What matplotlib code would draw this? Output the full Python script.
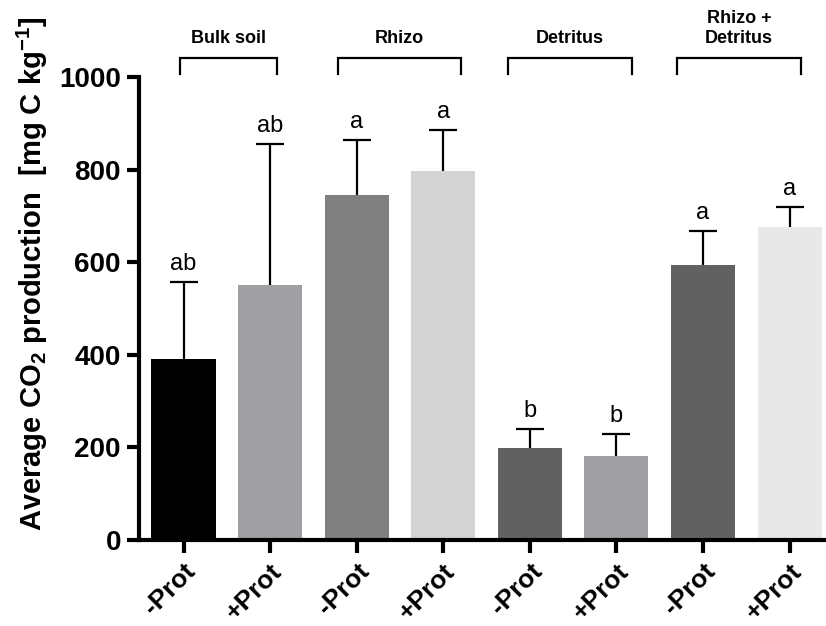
import matplotlib
matplotlib.use("Agg")
import matplotlib.pyplot as plt
import numpy as np

# Treatment groups and protist addition
groups = ["Bulk soil", "Rhizo", "Detritus", "Rhizo +\nDetritus"]
tick_labels = ["-Prot", "+Prot", "-Prot", "+Prot", "-Prot", "+Prot", "-Prot", "+Prot"]

# Mean CO2 production and upper error (SD) in mg C kg-1
means = [392, 550, 745, 797, 199, 181, 595, 675]
errors = [166, 305, 120, 88, 40, 49, 73, 45]
letters = ["ab", "ab", "a", "a", "b", "b", "a", "a"]
colors = ["#000000", "#a0a0a4", "#808080", "#d4d4d4",
          "#616161", "#a0a0a4", "#616161", "#e8e8e8"]

# Bracket spans (in bar-index units) above each treatment pair
bracket_spans = [(-0.04, 1.08), (1.78, 3.20), (3.75, 5.18), (5.70, 7.13)]

plt.rcParams['font.family'] = ['Liberation Sans', 'DejaVu Sans']

fig = plt.figure(figsize=(8.26, 6.26), dpi=100)
ax = fig.add_axes([139/826, 1 - 540/626, 1 - 139/826, (540 - 77)/626])

x = np.arange(len(means))
ax.bar(x, means, width=0.74, color=colors, edgecolor='none', zorder=2)
_, caps, _ = ax.errorbar(x, means, yerr=[np.zeros(len(errors)), errors], fmt='none',
                         ecolor='black', elinewidth=1.6, capsize=10, capthick=1.6,
                         zorder=1)
# only the upper cap is shown
caps[0].set_visible(False)

for xi, m, e, lab in zip(x, means, errors, letters):
    ax.text(xi, m + e + 15, lab, ha='center', va='bottom', fontsize=17)

ax.set_xlim(-0.514, 7.42)
ax.set_ylim(0, 1000)
ax.set_yticks([0, 200, 400, 600, 800, 1000])
ax.set_xticks(x)
ax.set_xticklabels(tick_labels, rotation=45, ha='right', rotation_mode='anchor',
                   fontsize=19, fontweight='bold')
for lab in ax.get_yticklabels():
    lab.set_fontweight('bold')
    lab.set_fontsize(20)

ax.spines['top'].set_visible(False)
ax.spines['right'].set_visible(False)
ax.spines['left'].set_linewidth(3)
ax.spines['bottom'].set_linewidth(3)
ax.tick_params(axis='both', width=3, length=9, direction='out')
ax.tick_params(axis='x', pad=5)
ax.tick_params(axis='y', pad=4)

ax.set_ylabel(r"Average CO$_\mathregular{2}$ production  [mg C kg$^\mathregular{-1}$]",
              fontsize=21, fontweight='bold')
ax.yaxis.set_label_coords(-0.13, 0.575)

# Group brackets above the plot area
for (x0, x1), name in zip(bracket_spans, groups):
    ytop, ybot = 1040, 1007
    ax.plot([x0, x0, x1, x1], [ybot, ytop, ytop, ybot], color='black',
            lw=1.6, clip_on=False, solid_joinstyle='miter')
    ax.text((x0 + x1) / 2, ytop + 24, name, ha='center', va='bottom',
            fontsize=13, fontweight='bold', linespacing=1.25)

fig.savefig("out.png", dpi=100)
